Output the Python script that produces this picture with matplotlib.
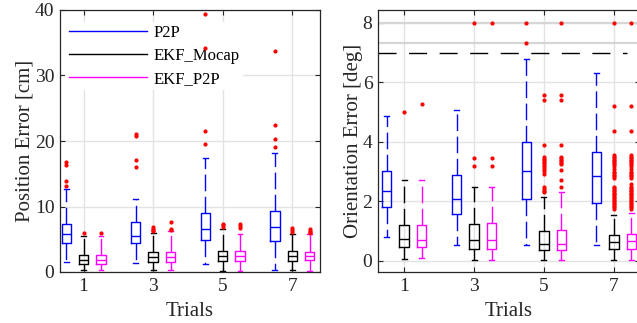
import matplotlib
matplotlib.use("Agg")
import matplotlib.pyplot as plt
from matplotlib.lines import Line2D

plt.rcParams['font.family'] = ['Liberation Serif', 'DejaVu Serif']

trials = [1, 3, 5, 7]
series = ['P2P', 'EKF_Mocap', 'EKF_P2P']
colors = ['#0000ff', '#000000', '#ff00ff']
offsets = [-0.5, 0.0, 0.5]

# position error [cm]: (whislo, q1, med, q3, whishi, fliers) per trial
pos_p2p = [
    (1.5, 4.5, 5.8, 7.3, 12.7, [13.2, 13.85, 16.4, 16.8]),
    (1.3, 4.4, 5.55, 7.6, 11.1, [16.0, 17.1, 20.75, 21.05]),
    (1.2, 4.85, 6.6, 9.0, 17.4, [19.55, 21.5, 34.2, 39.4]),
    (0.3, 4.8, 6.8, 9.25, 18.1, [19.1, 20.25, 22.5, 33.7]),
]
pos_mocap = [
    (0.3, 1.2, 1.85, 2.65, 5.55, [6.0]),
    (0.25, 1.5, 2.3, 3.0, 6.0, [6.2, 6.4, 6.6, 6.8]),
    (0.2, 1.65, 2.45, 3.25, 6.5, [6.8, 7.1, 7.4]),
    (0.25, 1.7, 2.45, 3.15, 5.85, [6.15, 6.45, 6.75]),
]
pos_ekf = [
    (0.25, 1.2, 1.85, 2.65, 5.45, [5.9]),
    (0.25, 1.5, 2.25, 3.0, 6.25, [6.35, 6.6, 7.7]),
    (0.2, 1.65, 2.45, 3.25, 5.85, [6.75, 7.05, 7.35]),
    (0.1, 1.8, 2.45, 3.1, 5.75, [5.9, 6.1, 6.3, 6.6]),
]

# orientation error [deg]
ori_p2p = [
    (0.8, 1.8, 2.35, 3.03, 4.88, []),
    (0.54, 1.58, 2.09, 2.88, 5.07, []),
    (0.55, 2.07, 3.03, 3.99, 6.8, [7.33, 8.0]),
    (0.53, 1.96, 2.84, 3.65, 6.32, []),
]
ori_mocap = [
    (0.08, 0.46, 0.73, 1.22, 2.71, [5.0]),
    (0.03, 0.39, 0.7, 1.24, 2.48, [3.18, 3.46, 8.0]),
    (0.02, 0.37, 0.58, 1.01, 2.15,
     [2.32, 2.36, 2.42, 2.47, 2.92, 3.03, 3.08, 3.16, 3.22, 3.28, 3.33,
      3.39, 3.44, 3.5, 3.9, 5.42, 5.57]),
    (0.03, 0.41, 0.64, 0.86, 1.55,
     [1.75, 1.8, 1.85, 1.9, 1.95, 2.0, 2.05, 2.1, 2.15, 2.2, 2.25, 2.3,
      2.35, 2.4, 2.45, 2.5, 2.8, 2.85, 2.9, 2.95, 3.0, 3.1, 3.2, 3.25,
      3.3, 3.35, 3.4, 3.45, 3.5, 3.56, 4.37, 5.22, 8.0]),
]
ori_ekf = [
    (0.09, 0.46, 0.7, 1.22, 2.71, [5.27]),
    (0.04, 0.39, 0.69, 1.28, 2.48, [3.18, 3.46, 8.0]),
    (0.02, 0.37, 0.56, 1.03, 2.33,
     [2.47, 2.72, 3.05, 3.25, 3.3, 3.35, 3.4, 3.45, 3.5, 3.9, 5.42, 5.57, 8.0]),
    (0.03, 0.41, 0.66, 0.89, 1.6,
     [1.75, 1.8, 1.85, 1.9, 1.95, 2.0, 2.05, 2.1, 2.15, 2.2, 2.25, 2.3,
      2.35, 2.4, 2.45, 2.5, 2.6, 2.8, 2.85, 2.9, 2.95, 3.0, 3.1, 3.2,
      3.25, 3.3, 3.35, 3.4, 3.45, 3.5, 3.56, 4.37, 5.22, 8.0]),
]

grid_c = '#e3e3e3'
axis_c = '#262626'


def to_stats(rows):
    return [dict(whislo=r[0], q1=r[1], med=r[2], q3=r[3], whishi=r[4], fliers=r[5])
            for r in rows]


def draw_boxes(ax, groups):
    for data, col, off in zip(groups, colors, offsets):
        ax.bxp(to_stats(data), positions=[t + off for t in trials], widths=0.27,
               capwidths=0.14, manage_ticks=False, patch_artist=False,
               boxprops=dict(color=col, lw=1.0),
               medianprops=dict(color=col, lw=1.0),
               whiskerprops=dict(color=col, lw=1.0, ls=(0, (12, 4))),
               capprops=dict(color=col, lw=1.0),
               flierprops=dict(marker='.', markersize=4, markerfacecolor='red',
                               markeredgecolor='red', ls='none'),
               zorder=3)


def style(ax):
    ax.set_xticks(trials)
    ax.grid(True, color=grid_c, lw=1.0, zorder=0)
    ax.set_axisbelow(True)
    ax.tick_params(direction='in', top=True, right=True, length=3.5,
                   labelsize=14, colors=axis_c, pad=4)
    for s in ax.spines.values():
        s.set_color(axis_c)
        s.set_linewidth(0.9)
    ax.set_xlabel('Trials', fontsize=15, color=axis_c, labelpad=5.5)


fig = plt.figure(figsize=(6.37, 3.23), dpi=100)
ax1 = fig.add_axes([60 / 637, 1 - 272 / 323, 260 / 637, 262 / 323])
ax2 = fig.add_axes([378 / 637, 1 - 272 / 323, 262 / 637, 262 / 323])

draw_boxes(ax1, [pos_p2p, pos_mocap, pos_ekf])
style(ax1)
ax1.set_xlim(0.32, 7.8)
ax1.set_ylim(0, 40)
ax1.set_yticks([0, 10, 20, 30, 40])
ax1.set_ylabel('Position Error [cm]', fontsize=15, color=axis_c, labelpad=0)

handles = [Line2D([], [], color=c, lw=1.0) for c in colors]
leg = ax1.legend(handles, series, loc='upper left', bbox_to_anchor=(0.02, 0.955),
                 fontsize=12, handlelength=4.7, handletextpad=0.4,
                 labelspacing=0.42, borderaxespad=0, borderpad=0.2,
                 frameon=True, fancybox=False, edgecolor='none',
                 facecolor='white', framealpha=1.0)
leg.set_zorder(1)

draw_boxes(ax2, [ori_p2p, ori_mocap, ori_ekf])
style(ax2)
ax2.set_xlim(0.25, 7.75)
ax2.set_ylim(-0.37, 8.43)
ax2.set_yticks([0, 2, 4, 6, 8])
ax2.axhline(8.0, color='#d6d6d6', lw=1.6, zorder=1)
ax2.axhline(7.33, color='#d6d6d6', lw=1.6, zorder=1)
ax2.plot([0.25, 7.37], [7.0, 7.0], color='black', lw=1.0, ls=(0, (13, 9)), zorder=2)
ax2.set_ylabel('Orientation Error [deg]', fontsize=15, color=axis_c, labelpad=0)

fig.savefig('out.png', dpi=100)
